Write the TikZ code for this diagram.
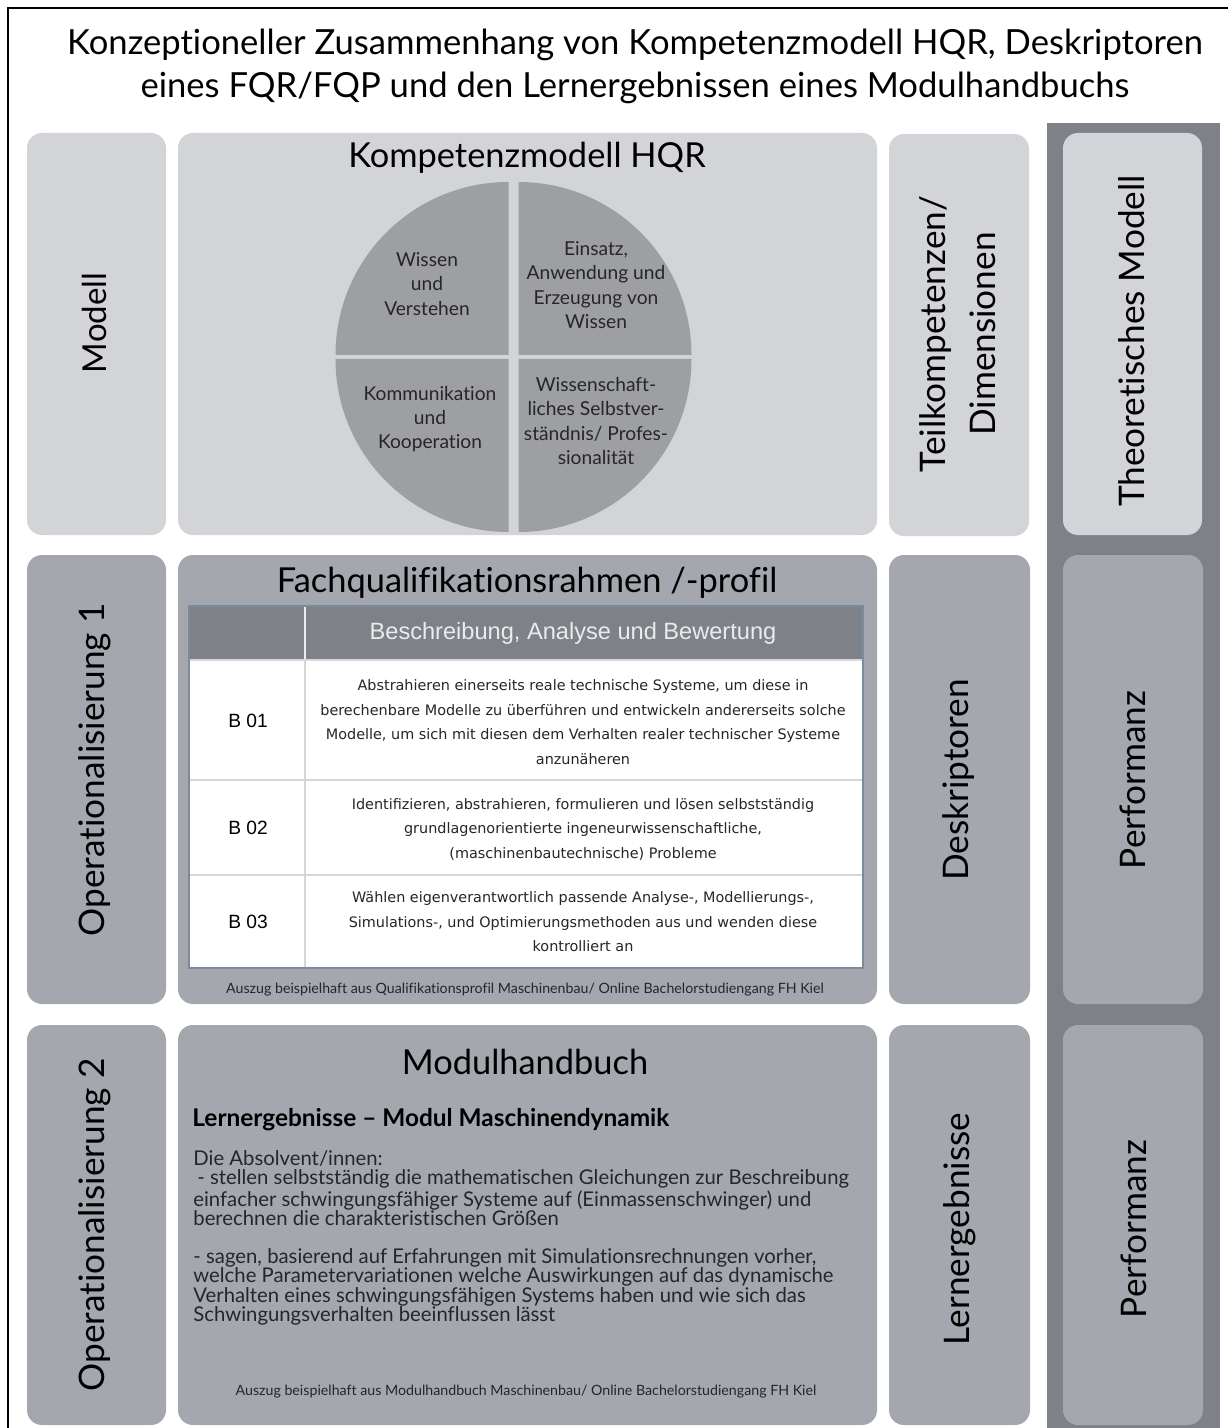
\documentclass[tikz,border=0pt]{standalone}
\usepackage{fontspec}
\setmainfont[Ligatures={NoCommon}]{Lato}
\newfontfamily\tablefont{DejaVu Sans}
\newfontfamily\headfont{Liberation Sans}
\usetikzlibrary{fit}

\definecolor{paleGray}{HTML}{D3D4D8}
\definecolor{midGray}{HTML}{A4A7AE}
\definecolor{darkGray}{HTML}{7F8189}
\definecolor{pieGray}{HTML}{9E9FA3}
\definecolor{headGray}{HTML}{7E8188}
\definecolor{inkGray}{HTML}{262626}
\definecolor{ruleGray}{HTML}{D6D6D6}
\definecolor{frameBlue}{HTML}{7C8A99}

\begin{document}
\begin{tikzpicture}[x=0.5pt,y=-0.5pt,
  panel/.style={inner sep=0pt, outer sep=0pt, rounded corners=7.5pt, fill=#1},
  sidelabel/.style={rotate=90, align=center, text=black, font=\fontsize{17.6pt}{25pt}\selectfont},
  boxtitle/.style={text=black, font=\fontsize{17.2pt}{20pt}\selectfont},
  quad/.style={align=center, text=inkGray, font=\fontsize{9.6pt}{12.2pt}\selectfont},
  celltext/.style={align=center, text=inkGray, font=\tablefont\fontsize{7.2pt}{12.25pt}\selectfont},
  rowid/.style={text=black, font=\headfont\fontsize{9.6pt}{12pt}\selectfont},
  note/.style={text=inkGray, font=\fontsize{7.1pt}{9pt}\selectfont},
  piece/.style={fill=pieGray}]

\useasboundingbox (0,0) rectangle (1227,1428);
\fill[white] (0,0) rectangle (1227,1428);

% frame lines at the top and the left
\draw[line width=1.3pt, line cap=rect] (8,1428) -- (8,8) -- (1227,8);

% title
\node[align=center, text=black, font=\fontsize{17.3pt}{21.5pt}\selectfont] (title) at (635,66)
  {Konzeptioneller Zusammenhang von Kompetenzmodell HQR, Deskriptoren\\
   eines FQR/FQP und den Lernergebnissen eines Modulhandbuchs};

% dark band behind the right column
\node[fill=darkGray, inner sep=0pt, fit={(1047,123) (1220,1428)}] (band) {};

% ---- row 1: model ----
\node[panel=paleGray, fit={(27,133) (166,535)}] (modell) {};
\node[panel=paleGray, fit={(178,133) (877,535)}] (hqr) {};
\node[panel=paleGray, fit={(889,134) (1029,536)}] (teil) {};
\node[panel=paleGray, fit={(1063,133) (1202,535)}] (theo) {};

\node[sidelabel, font=\fontsize{16.5pt}{25pt}\selectfont] (modellL) at (94,323) {Modell};
\node[sidelabel] (teilL) at (958,334) {Teilkompetenzen/\\Dimensionen};
\node[sidelabel] (theoL) at (1132,341) {Theoretisches Modell};
\node[boxtitle] (hqrL) at (527,158) {Kompetenzmodell HQR};

% competence pie: four quarter sectors pulled slightly apart
\coordinate (pc) at (513.5,357);
\fill[piece] ([shift={(-5,-2)}]pc) -- ++(-173,0) arc[start angle=180, end angle=270, radius=173] -- cycle;
\fill[piece] ([shift={(5,-2)}]pc) -- ++(0,-173) arc[start angle=270, end angle=360, radius=173] -- cycle;
\fill[piece] ([shift={(-5,2)}]pc) -- ++(-173,0) arc[start angle=180, end angle=90, radius=173] -- cycle;
\fill[piece] ([shift={(5,2)}]pc) -- ++(173,0) arc[start angle=0, end angle=90, radius=173] -- cycle;

\node[quad] (q1) at (427,284) {Wissen\\und\\Verstehen};
\node[quad] (q2) at (596,285) {Einsatz,\\Anwendung und\\Erzeugung von\\Wissen};
\node[quad] (q3) at (430,419) {Kommunikation\\und\\Kooperation};
\node[quad] (q4) at (596,421) {Wissenschaft-\\liches Selbstver-\\ständnis/ Profes-\\sionalität};

% ---- row 2: qualification framework ----
\node[panel=midGray, fit={(27,555) (166,1004)}] (op1) {};
\node[panel=midGray, fit={(178,555) (877,1004)}] (fqr) {};
\node[panel=midGray, fit={(889,555) (1030,1004)}] (desk) {};
\node[panel=midGray, fit={(1063,555) (1203,1004)}] (perf1) {};

\node[sidelabel] (op1L) at (95,770) {Operationalisierung 1};
\node[sidelabel] (deskL) at (959,780) {Deskriptoren};
\node[sidelabel] (perf1L) at (1133,780) {Performanz};
\node[boxtitle] (fqrL) at (527,583) {Fachqualifikationsrahmen /-profil};

% descriptor table
\fill[headGray] (189,606) rectangle (863,660);
\fill[white] (189,660) rectangle (863,968);
\draw[ruleGray, line width=0.6pt] (189,780) -- (863,780);
\draw[ruleGray, line width=0.6pt] (189,875) -- (863,875);
\draw[ruleGray, line width=0.6pt] (305,660) -- (305,968);
\draw[white!85!headGray, line width=0.8pt] (305,606) -- (305,660);
\draw[white!70!headGray, line width=0.9pt] (189,660) -- (863,660);
\draw[frameBlue, line width=0.6pt] (189,606) rectangle (863,968);

\node[text=white!92!black, font=\headfont\fontsize{11.8pt}{13pt}\selectfont] (colhead) at (573,633)
  {Beschreibung, Analyse und Bewertung};

\node[rowid] (b1) at (248,721) {B 01};
\node[rowid] (b2) at (248,828) {B 02};
\node[rowid] (b3) at (248,922) {B 03};

\node[celltext] (d1) at (583,722)
  {Abstrahieren einerseits reale technische Systeme, um diese in\\
   berechenbare Modelle zu überführen und entwickeln andererseits solche\\
   Modelle, um sich mit diesen dem Verhalten realer technischer Systeme\\
   anzunäheren};
\node[celltext] (d2) at (583,829)
  {Identifizieren, abstrahieren, formulieren und lösen selbstständig\\
   grundlagenorientierte ingeneurwissenschaftliche,\\
   (maschinenbautechnische) Probleme};
\node[celltext] (d3) at (583,922)
  {Wählen eigenverantwortlich passende Analyse-, Modellierungs-,\\
   Simulations-, und Optimierungsmethoden aus und wenden diese\\
   kontrolliert an};

\node[note] (fqrNote) at (525,990)
  {Auszug beispielhaft aus Qualifikationsprofil Maschinenbau/ Online Bachelorstudiengang FH Kiel};

% ---- row 3: module handbook ----
\node[panel=midGray, fit={(27,1025) (166,1425)}] (op2) {};
\node[panel=midGray, fit={(178,1025) (877,1425)}] (mhb) {};
\node[panel=midGray, fit={(889,1025) (1030,1425)}] (lern) {};
\node[panel=midGray, fit={(1063,1025) (1203,1425)}] (perf2) {};

\node[sidelabel] (op2L) at (95,1225) {Operationalisierung 2};
\node[sidelabel] (lernL) at (960,1229) {Lernergebnisse};
\node[sidelabel] (perf2L) at (1134,1229) {Performanz};
\node[boxtitle] (mhbL) at (525,1062) {Modulhandbuch};

\node[anchor=base west, inner sep=0pt, text=black, font=\bfseries\fontsize{12.2pt}{13pt}\selectfont] (lernHead) at (192,1126)
  {Lernergebnisse – Modul Maschinendynamik};

\node[anchor=north west, align=left, inner sep=0pt, text=inkGray,
      font=\fontsize{10.15pt}{9.6pt}\selectfont] (lernBody) at (193,1150)
  {Die Absolvent/innen:\\
   \hspace{2pt}- stellen selbstständig die mathematischen Gleichungen zur Beschreibung\\
   einfacher schwingungsfähiger Systeme auf (Einmassenschwinger) und\\
   berechnen die charakteristischen Größen\\[9.6pt]
   - sagen, basierend auf Erfahrungen mit Simulationsrechnungen vorher,\\
   welche Parametervariationen welche Auswirkungen auf das dynamische\\
   Verhalten eines schwingungsfähigen Systems haben und wie sich das\\
   Schwingungsverhalten beeinflussen lässt};

\node[note] (mhbNote) at (526,1392)
  {Auszug beispielhaft aus Modulhandbuch Maschinenbau/ Online Bachelorstudiengang FH Kiel};

\end{tikzpicture}
\end{document}
